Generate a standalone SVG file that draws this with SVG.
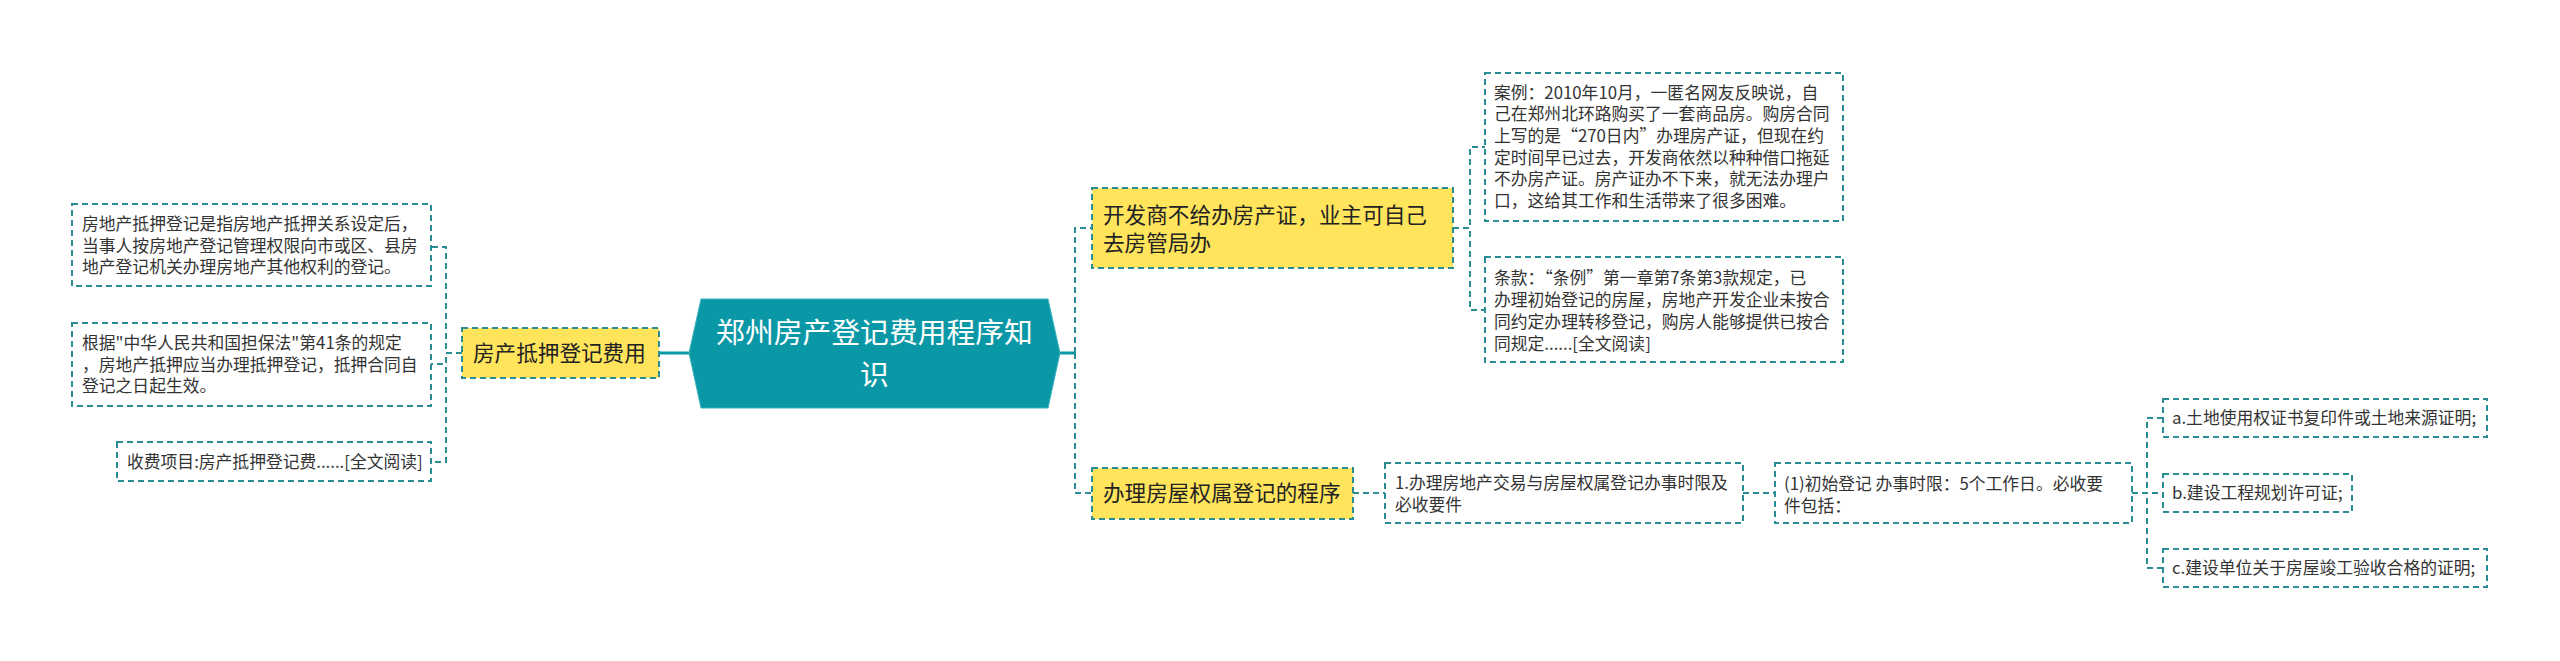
<svg xmlns="http://www.w3.org/2000/svg" width="2560" height="661" viewBox="0 0 2560 661">
<style>
.box{fill:#ffffff;stroke:#2A8D93;stroke-width:2;stroke-dasharray:6 4}
.ybox{fill:#FFE45C;stroke:#2A8D93;stroke-width:2;stroke-dasharray:6 4}
.conn{fill:none;stroke:#2A8D93;stroke-width:2;stroke-dasharray:6 4}
.solid{fill:none;stroke:#0B98A6;stroke-width:3}
.t{font-family:"Noto Sans CJK SC","Noto Sans",sans-serif;font-size:16.8px;fill:#333333}
.ty{font-family:"Noto Sans CJK SC","Noto Sans",sans-serif;font-size:21.6px;fill:#222222}
.tc{font-family:"Noto Sans CJK SC","Noto Sans",sans-serif;font-size:28.8px;fill:#ffffff;text-anchor:middle}
</style>
<rect width="2560" height="661" fill="#ffffff"/>
<g id="connectors">
<line class="solid" x1="659" y1="353" x2="689" y2="353"/>
<line class="solid" x1="1060" y1="353" x2="1075" y2="353"/>
<path class="conn" d="M462,353 H446 V247 H431"/>
<path class="conn" d="M462,353 H446 V364 H431"/>
<path class="conn" d="M462,353 H446 V462 H431"/>
<path class="conn" d="M1075,353 V228 H1092"/>
<path class="conn" d="M1075,353 V493 H1092"/>
<path class="conn" d="M1453,228 H1470 V147 H1485"/>
<path class="conn" d="M1453,228 H1470 V310 H1485"/>
<path class="conn" d="M1353,493 H1385"/>
<path class="conn" d="M1743,493 H1775"/>
<path class="conn" d="M2132,493 H2147 V418 H2163"/>
<path class="conn" d="M2132,493 H2163"/>
<path class="conn" d="M2132,493 H2147 V568 H2163"/>
</g>
<g id="center">
<polygon points="689,353 701,299 1048,299 1060,353 1048,408 701,408" fill="#0B98A6" stroke="#3AB3BE" stroke-width="1"/>
<text class="tc" x="874.5" y="343.4">郑州房产登记费用程序知</text>
<text class="tc" x="874.5" y="385.4">识</text>
</g>
<g id="n-mortgage">
<rect class="ybox" x="462" y="328" width="197" height="50"/>
<text class="ty" x="473" y="360.8">房产抵押登记费用</text>
</g>
<g id="n-def">
<rect class="box" x="72" y="204" width="359" height="82"/>
<text class="t" x="82" y="230">房地产抵押登记是指房地产抵押关系设定后，</text>
<text class="t" x="82" y="252">当事人按房地产登记管理权限向市或区、县房</text>
<text class="t" x="82" y="273">地产登记机关办理房地产其他权利的登记。</text>
</g>
<g id="n-law">
<rect class="box" x="72" y="323" width="359" height="83"/>
<text class="t" x="82" y="349">根据"中华人民共和国担保法"第41条的规定</text>
<text class="t" x="82" y="371">，房地产抵押应当办理抵押登记，抵押合同自</text>
<text class="t" x="82" y="392">登记之日起生效。</text>
</g>
<g id="n-fee">
<rect class="box" x="117" y="442" width="314" height="39"/>
<text class="t" x="127" y="468">收费项目:房产抵押登记费......[全文阅读]</text>
</g>
<g id="n-developer">
<rect class="ybox" x="1092" y="188" width="361" height="80"/>
<text class="ty" x="1103" y="223">开发商不给办房产证，业主可自己</text>
<text class="ty" x="1103" y="251">去房管局办</text>
</g>
<g id="n-case">
<rect class="box" x="1485" y="73" width="358" height="148"/>
<text class="t" x="1494" y="99">案例：2010年10月，一匿名网友反映说，自</text>
<text class="t" x="1494" y="120">己在郑州北环路购买了一套商品房。购房合同</text>
<text class="t" x="1494" y="142">上写的是“270日内”办理房产证，但现在约</text>
<text class="t" x="1494" y="164">定时间早已过去，开发商依然以种种借口拖延</text>
<text class="t" x="1494" y="185">不办房产证。房产证办不下来，就无法办理户</text>
<text class="t" x="1494" y="207">口，这给其工作和生活带来了很多困难。</text>
</g>
<g id="n-clause">
<rect class="box" x="1485" y="257" width="358" height="105"/>
<text class="t" x="1494" y="284">条款：“条例”第一章第7条第3款规定，已</text>
<text class="t" x="1494" y="306">办理初始登记的房屋，房地产开发企业未按合</text>
<text class="t" x="1494" y="328">同约定办理转移登记，购房人能够提供已按合</text>
<text class="t" x="1494" y="350">同规定......[全文阅读]</text>
</g>
<g id="n-procedure">
<rect class="ybox" x="1092" y="468" width="261" height="51"/>
<text class="ty" x="1103" y="501">办理房屋权属登记的程序</text>
</g>
<g id="n-step1">
<rect class="box" x="1385" y="463" width="358" height="60"/>
<text class="t" x="1395" y="489">1.办理房地产交易与房屋权属登记办事时限及</text>
<text class="t" x="1395" y="511">必收要件</text>
</g>
<g id="n-initial">
<rect class="box" x="1775" y="463" width="357" height="60"/>
<text class="t" x="1784" y="490">(1)初始登记 办事时限：5个工作日。必收要</text>
<text class="t" x="1784" y="512">件包括：</text>
</g>
<g id="n-a">
<rect class="box" x="2163" y="399" width="324" height="38"/>
<text class="t" x="2172" y="424">a.土地使用权证书复印件或土地来源证明;</text>
</g>
<g id="n-b">
<rect class="box" x="2163" y="474" width="189" height="38"/>
<text class="t" x="2172" y="499">b.建设工程规划许可证;</text>
</g>
<g id="n-c">
<rect class="box" x="2163" y="549" width="324" height="38"/>
<text class="t" x="2172" y="574">c.建设单位关于房屋竣工验收合格的证明;</text>
</g>
</svg>
